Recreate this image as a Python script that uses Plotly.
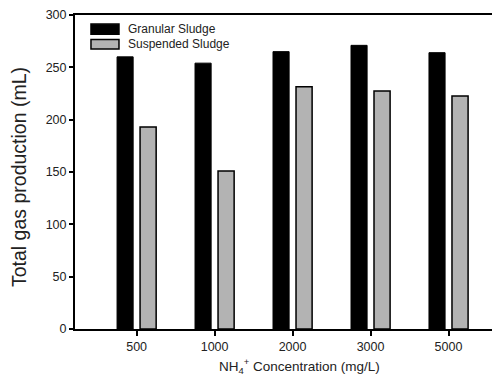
import plotly.graph_objects as go

categories = ["500", "1000", "2000", "3000", "5000"]
granular = [260, 254, 265, 271, 264]
suspended = [193, 151, 231.5, 227.5, 222.5]
y_ticks = [0, 50, 100, 150, 200, 250, 300]
series_names = ["Granular Sludge", "Suspended Sludge"]
series_colors = ["black", "#b3b3b3"]

fig = go.Figure()
fig.add_trace(go.Bar(name=series_names[0], x=categories, y=granular,
                     marker=dict(color=series_colors[0], line=dict(color="black", width=1))))
fig.add_trace(go.Bar(name=series_names[1], x=categories, y=suspended,
                     marker=dict(color=series_colors[1], line=dict(color="black", width=1.5))))

font = "Liberation Sans, Arial, sans-serif"
txt = "#222"
fig.update_layout(
    width=492, height=368,
    margin=dict(l=67, r=0, t=7, b=47, autoexpand=False),
    plot_bgcolor="white", paper_bgcolor="white",
    barmode="group", bargap=0.41, bargroupgap=0.3,
    font=dict(family=font, size=12, color=txt),
    showlegend=False,
    xaxis=dict(type="category", range=[-0.79, 4.66], showline=True, linecolor="black",
               linewidth=2, mirror=True, ticks="outside", ticklen=5, tickcolor="black",
               tickwidth=1.5, showgrid=False, tickfont=dict(size=12.5, color=txt)),
    yaxis=dict(range=[0, 300], tickvals=y_ticks, showline=True, linecolor="black",
               linewidth=2, ticks="outside", ticklen=4, tickcolor="black", tickwidth=1.5,
               showgrid=False, zeroline=False, tickfont=dict(size=12.5, color=txt)),
)

# manual legend (wide rectangular swatches as in the reference)
legend_rows = [(0.971, 0.939, 0.955), (0.922, 0.892, 0.907)]
for (y1, y0, yc), name, col in zip(legend_rows, series_names, series_colors):
    fig.add_shape(type="rect", xref="paper", yref="paper", x0=0.0376, x1=0.1035,
                  y0=y0, y1=y1, fillcolor=col, line=dict(color="black", width=1.5))
    fig.add_annotation(text=name, xref="paper", yref="paper", x=0.12, y=yc,
                       xanchor="left", yanchor="middle", showarrow=False,
                       font=dict(size=12, color=txt))

fig.add_annotation(text="Total gas production (mL)", textangle=-90,
                   xref="paper", yref="paper", x=-0.1306, y=0.4857,
                   xanchor="center", yanchor="middle", showarrow=False,
                   font=dict(size=19.5, color=txt))
fig.add_annotation(text="NH<sub>4</sub><sup>+</sup> Concentration (mg/L)",
                   xref="paper", yref="paper", x=0.529, y=-0.117, yanchor="middle",
                   showarrow=False, font=dict(size=13.5, color=txt))

fig.write_html("out.html")
